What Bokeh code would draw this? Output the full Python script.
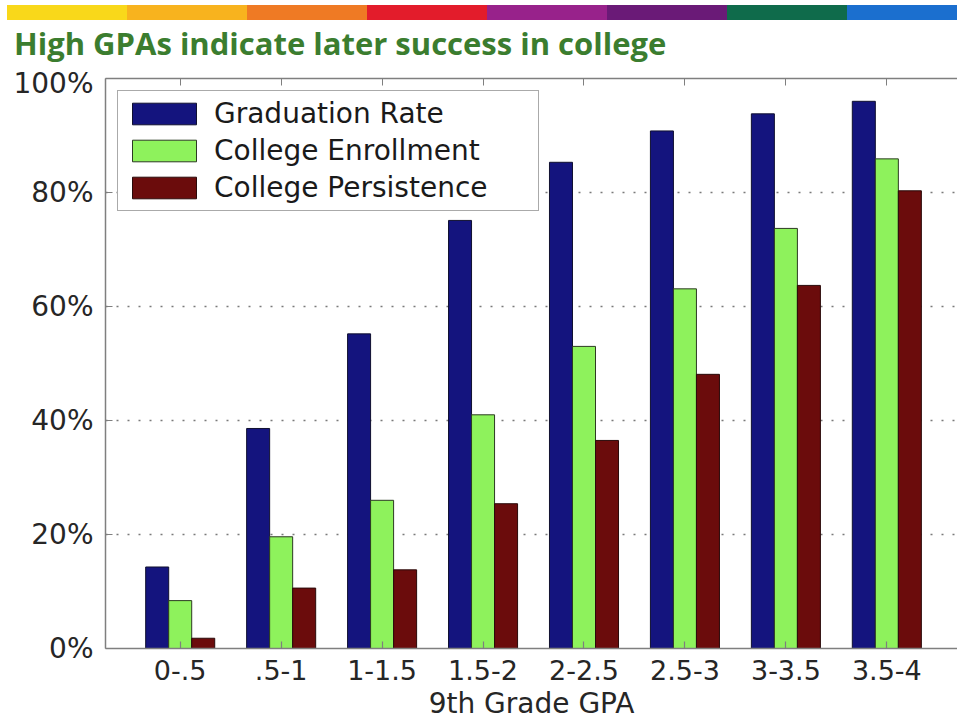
from bokeh.plotting import figure
from bokeh.models import (Range1d, FixedTicker, PrintfTickFormatter, Legend,
                          LegendItem, LinearAxis, ColumnDataSource, Div)
from bokeh.transform import dodge
from bokeh.layouts import column
from bokeh.embed import file_html
from bokeh.resources import INLINE

# ---- data -------------------------------------------------------------
title_text = "High GPAs indicate later success in college"
gpa_bands = ["0-.5", ".5-1", "1-1.5", "1.5-2", "2-2.5", "2.5-3", "3-3.5", "3.5-4"]
graduation_rate = [14.3, 38.6, 55.2, 75.1, 85.3, 90.8, 93.8, 96.0]
college_enrollment = [8.4, 19.6, 26.0, 41.0, 53.0, 63.1, 73.7, 85.9]
college_persistence = [1.8, 10.6, 13.8, 25.4, 36.5, 48.1, 63.7, 80.3]
series_names = ["Graduation Rate", "College Enrollment", "College Persistence"]
y_ticks = [0, 20, 40, 60, 80, 100]
x_label = "9th Grade GPA"

# ---- styling ----------------------------------------------------------
series_colors = ["#14147e", "#8ef25c", "#6b0c0c"]
banner_colors = ["#f9d81a", "#f8b31e", "#ef7a24", "#e31c2b",
                 "#98228b", "#6a1a77", "#0f6b4b", "#1b6fcf"]
FONT = "DejaVu Sans"
W = 957
HEADER_H = 66
MAIN_H = 722 - HEADER_H

# ---- header: colour banner + title (plain HTML block) -------------------
seg_w = 120
parts = ['<div style="position:relative;width:%dpx;height:%dpx;overflow:hidden;">' % (W, HEADER_H)]
for i, c in enumerate(banner_colors):
    left = 7 + seg_w * i
    width = seg_w if i < len(banner_colors) - 1 else W - left
    parts.append('<div style="position:absolute;left:%dpx;top:5px;width:%dpx;height:15px;'
                 'background:%s;"></div>' % (left, width, c))
parts.append('<div style="position:absolute;left:14px;top:28px;line-height:31px;'
             'font-family:\'Open Sans\';font-weight:700;font-size:31px;color:#3b7d2f;'
             'white-space:nowrap;">%s</div>' % title_text)
parts.append('</div>')
header = Div(text="".join(parts), width=W, height=HEADER_H, margin=0)

# ---- main bar chart -----------------------------------------------------
src = ColumnDataSource(dict(idx=list(range(len(gpa_bands))),
                            grad=graduation_rate, enr=college_enrollment,
                            per=college_persistence))

p = figure(width=W, height=MAIN_H, x_range=Range1d(-0.74, 7.70), y_range=Range1d(0, 100),
           toolbar_location=None, output_backend="svg",
           min_border_left=105, min_border_right=0, min_border_top=12,
           min_border_bottom=74, outline_line_color=None, margin=0)

bw = 0.228
r1 = p.vbar(x=dodge("idx", -bw, range=p.x_range), top="grad", width=bw, source=src,
            fill_color=series_colors[0], line_color="#101030", line_width=1)
r2 = p.vbar(x="idx", top="enr", width=bw, source=src,
            fill_color=series_colors[1], line_color="#2c3a22", line_width=1)
r3 = p.vbar(x=dodge("idx", bw, range=p.x_range), top="per", width=bw, source=src,
            fill_color=series_colors[2], line_color="#2a0a0a", line_width=1)

# grid
p.xgrid.visible = False
p.ygrid.grid_line_color = "#7a7a7a"
p.ygrid.grid_line_dash = "2 9"
p.ygrid.grid_line_width = 1.6

# axes
axis_color = "#7f7f7f"
xa = p.xaxis[0]
xa.ticker = FixedTicker(ticks=list(range(len(gpa_bands))))
xa.major_label_overrides = {i: s for i, s in enumerate(gpa_bands)}
xa.axis_label = x_label
ya = p.yaxis[0]
ya.ticker = FixedTicker(ticks=y_ticks)
ya.formatter = PrintfTickFormatter(format="%d%%")

for ax in (xa, ya):
    ax.axis_line_color = axis_color
    ax.axis_line_width = 1.5
    ax.major_tick_line_color = axis_color
    ax.major_tick_line_width = 1.2
    ax.major_tick_in = 7
    ax.major_tick_out = 0
    ax.minor_tick_line_color = None
    ax.major_label_text_font = FONT
    ax.major_label_text_color = "#262626"
    ax.axis_label_text_font = FONT
    ax.axis_label_text_font_style = "normal"
    ax.axis_label_text_color = "#262626"
ya.major_label_text_font_size = "28px"
ya.major_label_standoff = 12
xa.major_label_text_font_size = "27px"
xa.axis_label_text_font_size = "28px"
xa.major_label_standoff = 11
xa.axis_label_standoff = 4

top_axis = LinearAxis(ticker=FixedTicker(ticks=list(range(len(gpa_bands)))),
                      major_label_text_font_size="1px", major_label_text_alpha=0,
                      major_label_standoff=0, axis_line_color=axis_color,
                      axis_line_width=1.5, major_tick_line_color=axis_color,
                      major_tick_in=7, major_tick_out=0, minor_tick_line_color=None)
p.add_layout(top_axis, "above")

# legend
legend = Legend(items=[LegendItem(label=series_names[0], renderers=[r1]),
                       LegendItem(label=series_names[1], renderers=[r2]),
                       LegendItem(label=series_names[2], renderers=[r3])],
                location="top_left", margin=12, padding=6, spacing=4,
                glyph_width=80, glyph_height=27, label_height=27, label_width=318,
                label_standoff=10, label_text_font=FONT, label_text_font_size="28px",
                label_text_color="#1a1a1a", border_line_color="#555555",
                border_line_width=1.5, background_fill_color="white",
                background_fill_alpha=1.0)
p.add_layout(legend)

layout = column(header, p, spacing=0)
open("out.html", "w").write(file_html(layout, INLINE))
